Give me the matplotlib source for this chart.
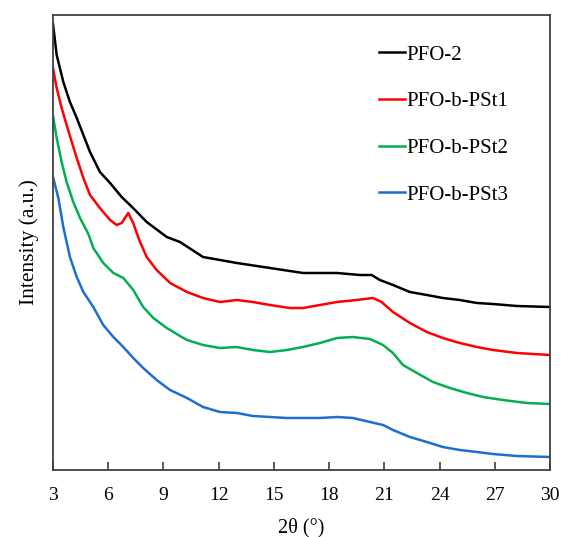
import numpy as np
import matplotlib.pyplot as plt

# values (intensity in arbitrary units, curves stacked)
theta_pfo2 = [3.0, 3.2, 3.56, 3.92, 4.29, 4.65, 5.01, 5.55, 6.1, 6.73, 7.35, 8.09,
              9.18, 9.9, 11.15, 12.99, 14.79, 16.58, 18.43, 19.68, 20.31, 20.76,
              21.47, 22.39, 23.31, 24.18, 25.1, 26.03, 26.9, 28.2, 30.0]
int_pfo2 = [446, 415, 388, 368, 352, 335, 318, 298, 287, 273, 262, 248,
            233, 228, 213, 207, 202, 197, 197, 195, 195, 190,
            185, 178, 175, 172, 170, 167, 166, 164, 163]

theta_pst1 = [3.0, 3.2, 3.47, 3.74, 4.02, 4.29, 4.65, 5.01, 5.55, 6.1, 6.46, 6.73,
              7.09, 7.36, 7.55, 7.73, 8.09, 8.63, 9.36, 10.28, 11.15, 12.07, 12.99,
              13.86, 14.79, 15.87, 16.58, 17.5, 18.43, 19.51, 20.38, 20.85, 21.47,
              22.39, 23.31, 24.18, 25.1, 26.03, 26.9, 28.2, 30.0]
int_pst1 = [402, 382, 362, 345, 328, 312, 292, 275, 262, 250, 245, 247,
            257, 247, 237, 228, 213, 200, 187, 178, 172, 168, 170,
            168, 165, 162, 162, 165, 168, 170, 172, 168, 158,
            147, 138, 132, 127, 123, 120, 117, 115]

theta_pst2 = [3.0, 3.2, 3.47, 3.74, 4.1, 4.47, 4.92, 5.19, 5.73, 6.28, 6.82, 7.36,
              7.9, 8.45, 9.18, 9.9, 10.28, 11.15, 12.07, 12.99, 13.86, 14.79,
              15.71, 16.58, 17.5, 18.43, 19.29, 20.22, 20.93, 21.47, 22.01, 22.77,
              23.64, 24.56, 25.49, 26.36, 27.44, 28.75, 30.0]
int_pst2 = [354, 332, 308, 288, 268, 252, 236, 222, 207, 197, 192, 180,
            163, 152, 142, 134, 130, 125, 122, 123, 120, 118,
            120, 123, 127, 132, 133, 131, 125, 117, 105, 97,
            88, 82, 77, 73, 70, 67, 66]

theta_pst3 = [3.0, 3.29, 3.56, 3.92, 4.29, 4.65, 5.19, 5.73, 6.28, 6.82, 7.36,
              7.9, 8.63, 9.36, 10.28, 11.15, 12.07, 12.99, 13.86, 14.79, 15.71,
              16.58, 17.5, 18.43, 19.29, 20.22, 20.93, 21.47, 22.39, 23.31, 24.18,
              25.1, 26.03, 26.9, 28.2, 30.0]
int_pst3 = [293, 272, 243, 213, 193, 178, 163, 145, 133, 123, 112,
            102, 90, 80, 72, 63, 58, 57, 54, 53, 52,
            52, 52, 53, 52, 48, 45, 40, 33, 28, 23,
            20, 18, 16, 14, 13]

labels = ["PFO-2", "PFO-b-PSt1", "PFO-b-PSt2", "PFO-b-PSt3"]
colors = ["#000000", "#ff0000", "#00b050", "#1a6fd0"]

plt.rcParams.update({
    "font.family": "Liberation Serif",
    "font.size": 14,
})

fig = plt.figure(figsize=(5.61, 5.37), dpi=100)
ax = fig.add_axes([53 / 561, 1 - 470 / 537, 497 / 561, 455 / 537])

series = [(theta_pfo2, int_pfo2), (theta_pst1, int_pst1),
          (theta_pst2, int_pst2), (theta_pst3, int_pst3)]
for (th, y), lab, c in zip(series, labels, colors):
    ax.plot(th, y, color=c, lw=1.8, label=lab, solid_joinstyle="round")

ax.set_xlim(3, 30)
ax.set_ylim(0, 455)
ax.set_xticks(np.arange(3, 31, 3))
ax.set_yticks([])
ax.tick_params(axis="x", direction="in", length=6, width=1.2, colors="#404040",
               labelcolor="black", pad=12, labelsize=14)
for s in ax.spines.values():
    s.set_color("#404040")
    s.set_linewidth(1.3)

ax.set_xlabel("2θ (°)", fontsize=14.5, labelpad=10)
ax.set_ylabel("Intensity (a.u.)", fontsize=15.5, labelpad=10)

leg = ax.legend(loc="upper left", bbox_to_anchor=(0.639, 0.952), frameon=False,
                fontsize=15, handlelength=1.25, handletextpad=0.05,
                labelspacing=1.3, borderaxespad=0)

fig.savefig("out.png", dpi=100)
